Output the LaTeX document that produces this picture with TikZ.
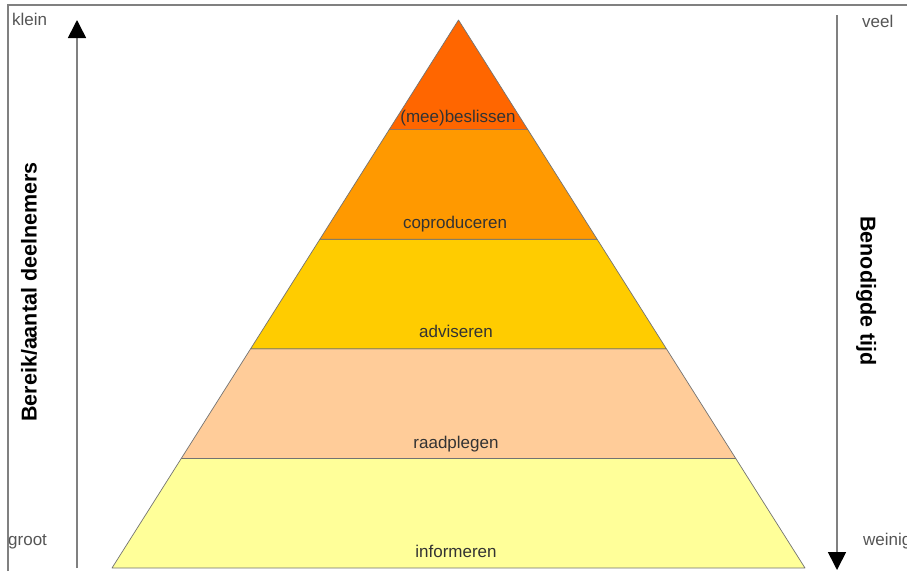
\documentclass[tikz,border=0pt]{standalone}
\usepackage{fontspec}
\setmainfont{Liberation Sans}
\usepackage{tikz}
\usetikzlibrary{calc,arrows.meta}
\definecolor{beslis}{HTML}{FF6600}
\definecolor{coprod}{HTML}{FF9900}
\definecolor{advies}{HTML}{FFCC00}
\definecolor{raadpl}{HTML}{FFCC99}
\definecolor{inform}{HTML}{FFFF99}
\definecolor{sidegray}{HTML}{555555}

\begin{document}
\begin{tikzpicture}[x=1pt,y=-1pt,
  band/.style={draw=black!55,line width=0.7pt,line join=round},
  level/.style={font=\fontsize{17}{17}\selectfont,text=black!80,anchor=base,inner sep=0pt},
  sidetext/.style={font=\fontsize{17}{17}\selectfont,text=sidegray,inner sep=0pt},
  axis/.style={font=\bfseries\fontsize{21.5}{21.5}\selectfont,inner sep=0pt},
  pijl/.style={draw=black!50,line width=1.6pt,-{Triangle[length=18pt,width=18pt,color=black]}}]
\useasboundingbox (0,0) rectangle (907,571);
\fill[white] (0,0) rectangle (907,571);
% frame (only top and left edge visible)
\draw[black!50,line width=1.8pt] (8,571) -- (8,5) -- (907,5);
% pyramid corners
\coordinate (top) at (458.5,20);
\coordinate (bl) at (112,568);
\coordinate (br) at (805,568);
% band borders on both sides
\foreach \i/\f in {1/0.2,2/0.4,3/0.6,4/0.8}{
  \coordinate (l\i) at ($(top)!\f!(bl)$);
  \coordinate (r\i) at ($(top)!\f!(br)$);
}
\filldraw[band,fill=inform] (l4) -- (bl) -- (br) -- (r4) -- cycle;
\filldraw[band,fill=raadpl] (l3) -- (l4) -- (r4) -- (r3) -- cycle;
\filldraw[band,fill=advies] (l2) -- (l3) -- (r3) -- (r2) -- cycle;
\filldraw[band,fill=coprod] (l1) -- (l2) -- (r2) -- (r1) -- cycle;
\filldraw[band,fill=beslis] (top) -- (l1) -- (r1) -- cycle;
% labels
\node[level] (mee) at (458,122) {(mee)beslissen};
\node[level] (copro) at (455,228) {coproduceren};
\node[level] (advis) at (456,337) {adviseren};
\node[level] (raad) at (456,448) {raadplegen};
\node[level] (info) at (456,557) {informeren};
% left side
\node[sidetext,anchor=base west] (klein) at (12,25) {klein};
\node[sidetext,anchor=base west] (groot) at (8,545) {groot};
\coordinate (lvoet) at (77,568);
\coordinate (ltop) at (77,20);
\draw[pijl] (lvoet) -- (ltop);
\node[axis,rotate=90] (bereik) at (29,292) {Bereik/aantal deelnemers};
% right side
\node[sidetext,anchor=base west] (veel) at (862,27) {veel};
\node[sidetext,anchor=base west] (weinig) at (863,545) {weinig};
\coordinate (rtop) at (837,15);
\coordinate (rvoet) at (837,570);
\draw[pijl] (rtop) -- (rvoet);
\node[axis,rotate=-90] (tijd) at (866,291) {Benodigde tijd};
\end{tikzpicture}
\end{document}
